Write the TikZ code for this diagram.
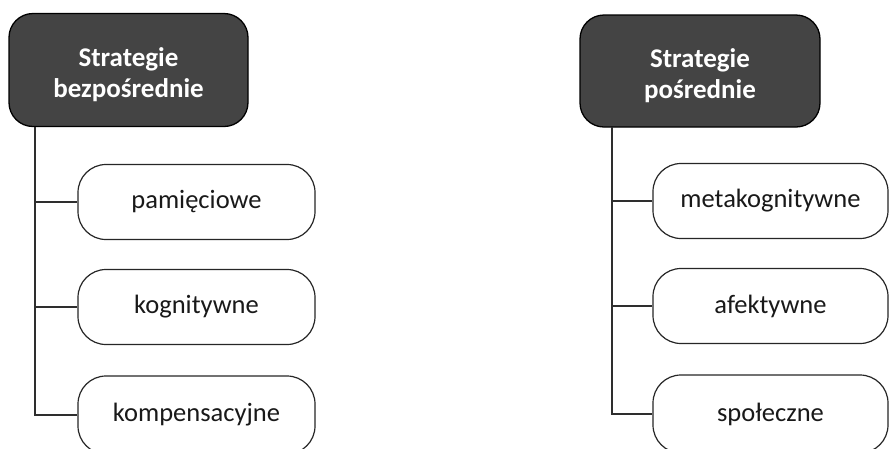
\documentclass[tikz,border=0pt]{standalone}
\usepackage{fontspec}
\setmainfont{Carlito}
\definecolor{headfill}{HTML}{444444}
\definecolor{linec}{HTML}{2E2E2E}
\begin{document}
\begin{tikzpicture}[x=1pt,y=-1pt,
  headbox/.style={draw=black, line width=1.3pt, fill=headfill, rounded corners=24pt,
    minimum width=239pt, minimum height=113pt, inner sep=0pt},
  headlabel/.style={text=white, align=center,
    font=\fontsize{27}{31}\selectfont\bfseries, inner sep=0pt},
  leafbox/.style={draw=black!85, line width=1.2pt, fill=white, rounded corners=28pt,
    minimum width=237pt, minimum height=75pt, align=center,
    font=\fontsize{26.5}{30}\selectfont, text=black!90, inner sep=0pt},
  conn/.style={draw=linec, line width=1.2pt}]
\useasboundingbox (0,0) rectangle (889,448);
\clip (0,0) rectangle (889,448);
% left tree
\node[headbox] (h1) at (128.5,70) {};
\node[headlabel] (h1t) at ([yshift=-5pt]h1.center) {Strategie\\bezpośrednie};
\node[leafbox] (l1) at (196.5,202) {pamięciowe};
\node[leafbox] (l2) at (196.5,307) {kognitywne};
\node[leafbox, minimum height=78pt] (l3) at (196.5,415) {kompensacyjne};
\coordinate (t1) at (35,127);
\draw[conn] (t1) |- (l3.west);
\draw[conn] (t1 |- l1.west) -- (l1.west);
\draw[conn] (t1 |- l2.west) -- (l2.west);
% right tree
\node[headbox, minimum width=240pt, minimum height=112pt] (h2) at (700,71) {};
\node[headlabel] (h2t) at ([yshift=-5pt]h2.center) {Strategie\\pośrednie};
\node[leafbox, minimum width=235pt] (r1) at (770.5,201) {metakognitywne};
\node[leafbox, minimum width=235pt] (r2) at (770.5,306) {afektywne};
\node[leafbox, minimum width=235pt, minimum height=78pt] (r3) at (770.5,414) {społeczne};
\coordinate (t2) at (612,127);
\draw[conn] (t2) |- (r3.west);
\draw[conn] (t2 |- r1.west) -- (r1.west);
\draw[conn] (t2 |- r2.west) -- (r2.west);
\end{tikzpicture}
\end{document}
